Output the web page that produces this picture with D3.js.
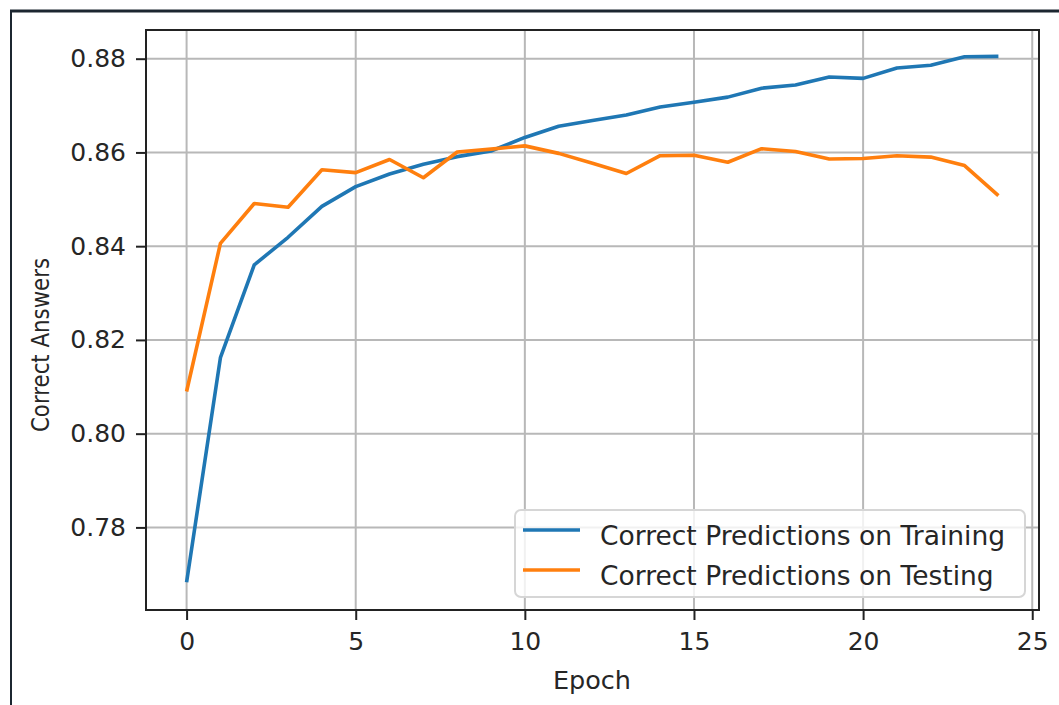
<!DOCTYPE html>
<html>
<head>
<meta charset="utf-8">
<script src="https://cdn.jsdelivr.net/npm/d3@7"></script>
<style>
  body { margin: 0; background: #fff; }
  svg { display: block; font-family: "DejaVu Sans", sans-serif; }
</style>
</head>
<body>
<div id="chart"></div>
<script>
const epochs = d3.range(0, 25)
const training = [0.7683, 0.8162, 0.8360, 0.8419, 0.8485, 0.8527, 0.8554, 0.8575, 0.8591, 0.8603,
  0.8632, 0.8656, 0.8668, 0.8680, 0.8697, 0.8707, 0.8718, 0.8737, 0.8744, 0.8761,
  0.8758, 0.8780, 0.8786, 0.8804, 0.8805]
const testing = [0.8090, 0.8406, 0.8491, 0.8483, 0.8563, 0.8557, 0.8585, 0.8546, 0.8601, 0.8607,
  0.8614, 0.8598, 0.8577, 0.8555, 0.8593, 0.8594, 0.8579, 0.8608, 0.8602, 0.8586,
  0.8587, 0.8593, 0.8590, 0.8572, 0.8508]
const seriesNames = ["Correct Predictions on Training", "Correct Predictions on Testing"]
const seriesColors = ["#1f77b4", "#ff7f0e"]
const xTicks = [0, 5, 10, 15, 20, 25]
const yTicks = [0.78, 0.80, 0.82, 0.84, 0.86, 0.88]

const W = 1059, H = 705
const MARGIN = { TOP: 30, BOTTOM: 95, LEFT: 146, RIGHT: 20 }
const WIDTH = W - MARGIN.LEFT - MARGIN.RIGHT
const HEIGHT = H - MARGIN.TOP - MARGIN.BOTTOM

const svg = d3.select("#chart").append("svg")
  .attr("width", W).attr("height", H)

// screenshot frame
svg.append("line").attr("x1", 10).attr("x2", W).attr("y1", 11).attr("y2", 11)
  .attr("stroke", "#1c2630").attr("stroke-width", 3)
svg.append("line").attr("x1", 11).attr("x2", 11).attr("y1", 10).attr("y2", H)
  .attr("stroke", "#1c2630").attr("stroke-width", 2)

const g = svg.append("g").attr("transform", `translate(${MARGIN.LEFT}, ${MARGIN.TOP})`)

const x = d3.scaleLinear().domain([-1.2, 25.2]).range([0, WIDTH])
const y = d3.scaleLinear().domain([0.76238, 0.88612]).range([HEIGHT, 0])

// grid
g.append("g").selectAll("line").data(xTicks).join("line")
  .attr("x1", d => x(d)).attr("x2", d => x(d)).attr("y1", 0).attr("y2", HEIGHT)
  .attr("stroke", "#b8b8b8").attr("stroke-width", 2)
g.append("g").selectAll("line").data(yTicks).join("line")
  .attr("x1", 0).attr("x2", WIDTH).attr("y1", d => y(d)).attr("y2", d => y(d))
  .attr("stroke", "#b8b8b8").attr("stroke-width", 2)

// lines
const line = d3.line().x((d, i) => x(epochs[i])).y(d => y(d))
;[training, testing].forEach((s, i) => {
  g.append("path").datum(s)
    .attr("fill", "none")
    .attr("stroke", seriesColors[i])
    .attr("stroke-width", 3.6)
    .attr("stroke-linejoin", "round")
    .attr("d", line)
})

// axes
const xAxis = g.append("g").attr("transform", `translate(0, ${HEIGHT})`)
  .call(d3.axisBottom(x).tickValues(xTicks).tickSize(10).tickPadding(12).tickFormat(d3.format("d")))
const yAxis = g.append("g")
  .call(d3.axisLeft(y).tickValues(yTicks).tickSize(10).tickPadding(10).tickFormat(d3.format(".2f")))
;[xAxis, yAxis].forEach(a => {
  a.select(".domain").remove()
  a.selectAll(".tick line").attr("stroke", "#222").attr("stroke-width", 2)
  a.selectAll(".tick text").attr("fill", "#262626")
    .style("font-family", "DejaVu Sans").style("font-size", "25px")
})

// spines
g.append("rect").attr("x", 0).attr("y", 0).attr("width", WIDTH).attr("height", HEIGHT)
  .attr("fill", "none").attr("stroke", "#222").attr("stroke-width", 2)

// axis labels
svg.append("text")
  .attr("x", 592).attr("y", 689)
  .attr("text-anchor", "middle").attr("fill", "#262626")
  .style("font-size", "25.5px").text("Epoch")
// the reference ylabel is squeezed along its length, so fit it to the measured span
svg.append("text")
  .attr("transform", "translate(49, 345) rotate(-90)")
  .attr("text-anchor", "middle").attr("fill", "#262626")
  .attr("textLength", 174).attr("lengthAdjust", "spacingAndGlyphs")
  .style("font-size", "25px").text("Correct Answers")

// legend
const lg = svg.append("g").attr("transform", "translate(515, 510)")
lg.append("rect").attr("width", 510).attr("height", 87).attr("rx", 6)
  .attr("fill", "#fff").attr("fill-opacity", 0.8)
  .attr("stroke", "#d6d6d6").attr("stroke-width", 2)
seriesNames.forEach((name, i) => {
  const yy = 20 + i * 40
  lg.append("line").attr("x1", 8).attr("x2", 65).attr("y1", yy).attr("y2", yy)
    .attr("stroke", seriesColors[i]).attr("stroke-width", 3.6)
  lg.append("text").attr("x", 85).attr("y", yy + 15)
    .attr("fill", "#262626").style("font-size", "26.5px").text(name)
})
</script>
</body>
</html>
